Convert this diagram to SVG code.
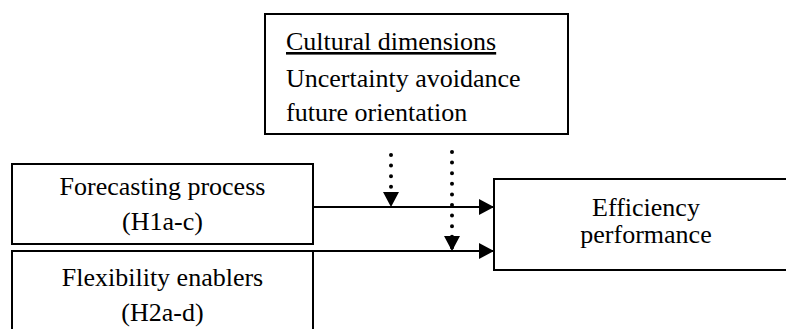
<svg xmlns="http://www.w3.org/2000/svg" width="786" height="329" viewBox="0 0 786 329">
<style>
.box{fill:#fff;stroke:#000;stroke-width:2}
.t{font-family:'Liberation Serif','Times New Roman',Times,'DejaVu Serif',serif;font-size:26px;fill:#000}
.c{text-anchor:middle}
.solid{stroke:#000;stroke-width:2;fill:none}
.dot{stroke:#000;stroke-width:4;stroke-linecap:round;stroke-dasharray:0 10.6;fill:none}
</style>
<defs>
<marker id="ah" markerUnits="userSpaceOnUse" markerWidth="15" markerHeight="16" refX="15" refY="8" orient="auto">
<path d="M0,0 L15,8 L0,16 z" fill="#000"/>
</marker>
</defs>
<g id="cultural">
<rect class="box" x="265" y="14" width="303" height="120"/>
<text class="t" font-family="Liberation Serif, serif" x="286" y="50" text-decoration="underline">Cultural dimensions</text>
<text class="t" font-family="Liberation Serif, serif" x="286" y="86.5">Uncertainty avoidance</text>
<text class="t" font-family="Liberation Serif, serif" x="286" y="121">future orientation</text>
</g>
<g id="forecasting">
<rect class="box" x="12" y="164" width="301" height="80"/>
<text class="t c" font-family="Liberation Serif, serif" x="162.5" y="195">Forecasting process</text>
<text class="t c" font-family="Liberation Serif, serif" x="162.5" y="230">(H1a-c)</text>
</g>
<g id="flexibility">
<rect class="box" x="12" y="251" width="301" height="90"/>
<text class="t c" font-family="Liberation Serif, serif" x="162.5" y="286">Flexibility enablers</text>
<text class="t c" font-family="Liberation Serif, serif" x="162.5" y="321">(H2a-d)</text>
</g>
<g id="efficiency">
<rect class="box" x="494" y="179" width="300" height="91"/>
<text class="t c" font-family="Liberation Serif, serif" x="646" y="216">Efficiency</text>
<text class="t c" font-family="Liberation Serif, serif" x="646" y="243">performance</text>
</g>
<g id="connectors">
<path class="solid" d="M313,207 H494" marker-end="url(#ah)"/>
<path class="solid" d="M313,251 H494" marker-end="url(#ah)"/>
<path class="dot" d="M391,155 V207" marker-end="url(#ah)"/>
<path class="dot" d="M452,152 V251" marker-end="url(#ah)"/>
</g>
</svg>
